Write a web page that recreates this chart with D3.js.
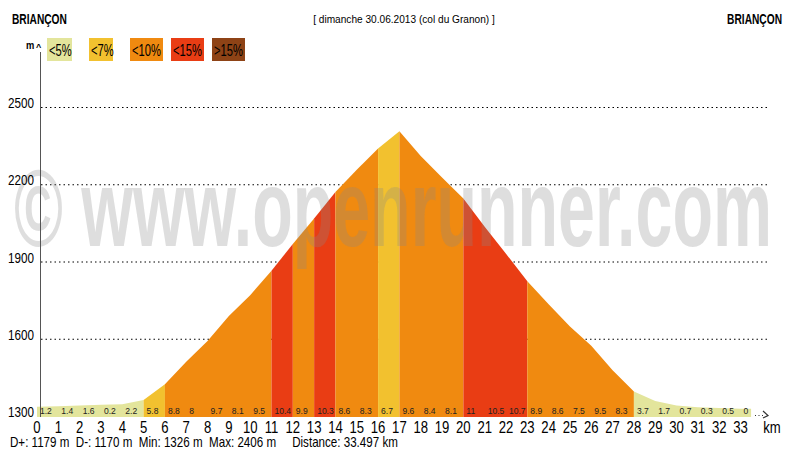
<!DOCTYPE html>
<html>
<head>
  <meta charset="utf-8">
  <title>Profil - col du Granon</title>
  <script src="https://d3js.org/d3.v7.min.js"></script>
  <style>
    body { margin: 0; background: #fff; }
    svg text { font-family: "Liberation Sans", Arial, sans-serif; fill: #000; }
  </style>
</head>
<body>
  <div id="profile"></div>

  <script type="text/javascript">

    // distance (km) and altitude (m)
    var kms = [0, 1, 2, 3, 4, 5, 6, 7, 8, 9, 10, 11, 12, 13, 14, 15, 16, 17,
               18, 19, 20, 21, 22, 23, 24, 25, 26, 27, 28, 29, 30, 31, 32, 33, 33.497];
    var altitudes = [1336, 1338, 1341, 1344, 1346, 1362, 1423, 1511, 1591, 1688, 1769, 1864,
                     1968, 2067, 2170, 2256, 2339, 2406, 2310, 2226, 2145, 2035, 1930, 1823,
                     1734, 1648, 1573, 1478, 1395, 1358, 1341, 1334, 1331, 1328, 1328];
    // grade (%) shown for each km segment
    var grades = ["1.2", "1.4", "1.6", "0.2", "2.2", "5.8", "8.8", "8", "9.7", "8.1", "9.5",
                  "10.4", "9.9", "10.3", "8.6", "8.3", "6.7", "9.6", "8.4", "8.1", "11",
                  "10.5", "10.7", "8.9", "8.6", "7.5", "9.5", "8.3", "3.7", "1.7", "0.7",
                  "0.3", "0.5", "0"];

    var altTicks = [1300, 1600, 1900, 2200, 2500];
    var kmTicks = d3.range(0, 34);

    var legendLabels = ["<5%", "<7%", "<10%", "<15%", ">15%"];
    var legendColors = ["#e3e59c", "#f2c12f", "#f08a10", "#e93d14", "#8e4316"];
    var gradeBreaks = [5, 7, 10, 15];

    var stats = "D+: 1179 m  D-: 1170 m  Min: 1326 m  Max: 2406 m     Distance: 33.497 km";

    var width = 794, height = 450;

    var x = d3.scaleLinear().domain([0, 33]).range([37, 740.5]);
    var y = d3.scaleLinear().domain([1300, 2500]).range([416, 107]);
    var color = d3.scaleThreshold().domain(gradeBreaks).range(legendColors);

    var svg = d3.select('#profile')
                .append('svg')
                  .attr('width', width)
                  .attr('height', height);

    // the original uses a condensed face: squeeze the text horizontally
    function narrowText(parent, px, py, sx, txt) {
      return parent.append('text')
          .attr('transform', 'translate(' + px + ',' + py + ') scale(' + sx + ',1)')
          .text(txt);
    }

    // titles
    narrowText(svg, 12, 24, 0.68, 'BRIANÇON')
        .style('font-size', '15px').style('font-weight', 'bold');
    narrowText(svg, 782, 24, 0.68, 'BRIANÇON')
        .attr('text-anchor', 'end')
        .style('font-size', '15px').style('font-weight', 'bold');
    narrowText(svg, 404, 23, 0.88, '[ dimanche 30.06.2013 (col du Granon) ]')
        .attr('text-anchor', 'middle')
        .style('font-size', '11.5px');

    // dotted grid lines
    svg.append('g')
        .selectAll('line')
        .data(altTicks.slice(1))
        .enter().append('line')
          .attr('x1', 41).attr('x2', 767)
          .attr('y1', function(d) { return y(d) + 0.5; })
          .attr('y2', function(d) { return y(d) + 0.5; })
          .attr('stroke', '#000')
          .attr('stroke-width', 1)
          .attr('stroke-dasharray', '1.5,3');

    // profile: consecutive km with the same grade class are drawn as one shape
    var area = d3.area()
        .x(function(d) { return x(d[0]); })
        .y0(y(1300) + 1)
        .y1(function(d) { return y(d[1]); });

    var runs = [];
    grades.forEach(function(g, i) {
      var c = color(+g);
      var last = runs[runs.length - 1];
      if (last && last.color === c) {
        last.pts.push([kms[i + 1], altitudes[i + 1]]);
      } else {
        runs.push({ color: c, pts: [[kms[i], altitudes[i]], [kms[i + 1], altitudes[i + 1]]] });
      }
    });

    svg.append('g')
        .selectAll('path')
        .data(runs)
        .enter().append('path')
          .attr('d', function(d) { return area(d.pts); })
          .attr('fill', function(d) { return d.color; });

    // watermark
    svg.append('text')
        .attr('x', 14).attr('y', 246)
        .attr('textLength', 758)
        .attr('lengthAdjust', 'spacingAndGlyphs')
        .style('font-size', '110px')
        .style('font-weight', 'bold')
        .style('fill', '#888')
        .style('fill-opacity', 0.28)
        .text('© www.openrunner.com');

    // vertical axis
    svg.append('line')
        .attr('x1', 40.5).attr('x2', 40.5)
        .attr('y1', 52).attr('y2', 417)
        .attr('stroke', '#555').attr('stroke-width', 1);
    narrowText(svg, 26, 49, 0.85, 'm')
        .style('font-size', '11px').style('font-weight', 'bold');
    svg.append('text')
        .attr('x', 36).attr('y', 50)
        .style('font-size', '9px').style('font-weight', 'bold')
        .text('^');

    svg.append('g')
        .selectAll('text')
        .data(altTicks)
        .enter().append('text')
          .attr('transform', function(d) { return 'translate(34,' + (y(d) + 1) + ') scale(0.78,1)'; })
          .attr('text-anchor', 'end')
          .style('font-size', '15px')
          .text(function(d) { return d; });

    // km labels
    svg.append('g')
        .selectAll('text')
        .data(kmTicks)
        .enter().append('text')
          .attr('transform', function(d) { return 'translate(' + x(d) + ',433) scale(0.82,1)'; })
          .attr('text-anchor', 'middle')
          .style('font-size', '16px')
          .text(function(d) { return d; });

    svg.append('line')
        .attr('x1', 755).attr('x2', 765)
        .attr('y1', 415.5).attr('y2', 415.5)
        .attr('stroke', '#333').attr('stroke-dasharray', '1,2.5');
    svg.append('path')
        .attr('d', 'M763,411 L768,415.5 L763,418')
        .attr('fill', 'none').attr('stroke', '#333').attr('stroke-width', 1.2);
    narrowText(svg, 772, 433, 0.82, 'km')
        .attr('text-anchor', 'middle')
        .style('font-size', '16px');

    // grade per km
    svg.append('g')
        .selectAll('text')
        .data(grades)
        .enter().append('text')
          .attr('transform', function(d, i) { return 'translate(' + (x(kms[i]) + 3) + ',413.5) scale(0.9,1)'; })
          .style('font-size', '9.5px')
          .style('fill', '#222')
          .text(function(d) { return d; });

    // legend
    var legendX = [47, 89, 130, 171, 212];
    var legendW = [25, 24, 33, 33, 33];
    var legend = svg.append('g').selectAll('g')
        .data(legendLabels)
        .enter().append('g')
          .attr('transform', function(d, i) { return 'translate(' + legendX[i] + ',38)'; });
    legend.append('rect')
        .attr('width', function(d, i) { return legendW[i]; })
        .attr('height', 23)
        .attr('fill', function(d, i) { return legendColors[i]; });
    legend.append('text')
        .attr('transform', 'translate(2,18) scale(0.7,1)')
        .style('font-size', '16px')
        .text(function(d) { return d; });

    // summary line
    narrowText(svg, 10, 447, 0.8, stats)
        .style('font-size', '14.5px')
        .style('white-space', 'pre')
        .attr('xml:space', 'preserve');

  </script>
</body>
</html>
